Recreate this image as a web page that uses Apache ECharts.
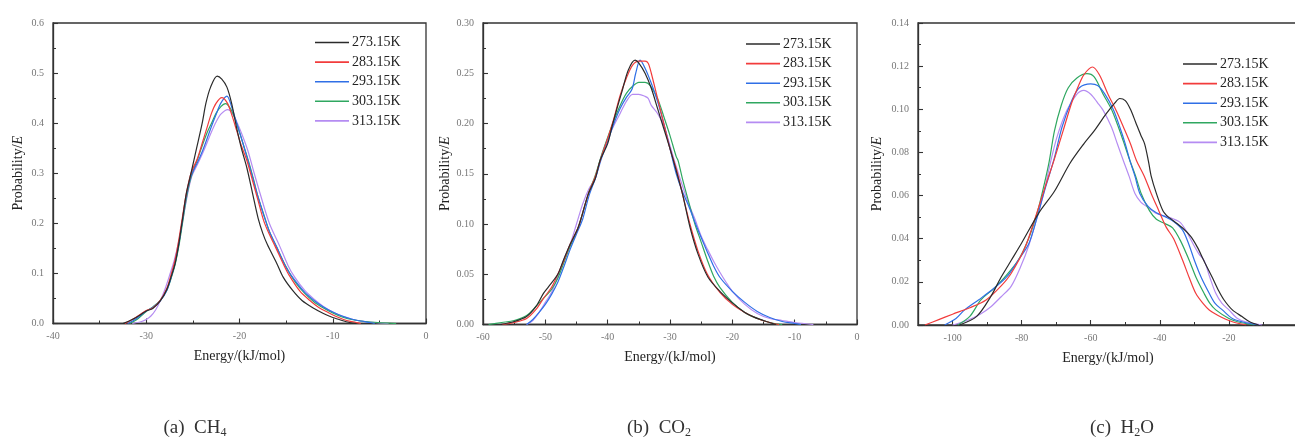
<!DOCTYPE html>
<html>
<head>
<meta charset="utf-8">
<title>Adsorption energy distributions</title>
<script src="https://cdn.jsdelivr.net/npm/echarts@6/dist/echarts.min.js"></script>
<style>
  html, body { margin: 0; padding: 0; background: #fff; }
  #chart { width: 1295px; height: 440px; }
</style>
</head>
<body>
<div id="chart"></div>
<script>
// Temperatures shown in every legend
const temps = ['273.15K', '283.15K', '293.15K', '303.15K', '313.15K'];
const colors = ['#2b2b2b', '#f23c3c', '#2f6fe6', '#2fa760', '#b58cf2'];

// (a) CH4 : [energy kJ/mol, probability]
const ch4_273 = [[-32.5,0],[-31.5,0.008],[-30.5,0.019],[-30,0.025],[-29.3,0.03],[-28.5,0.045],[-27.8,0.068],[-27.3,0.095],[-26.9,0.12],[-26.5,0.16],[-26.1,0.21],[-25.7,0.26],[-25.2,0.3],[-24.6,0.35],[-24,0.4],[-23.6,0.44],[-23.1,0.472],[-22.4,0.494],[-21.9,0.488],[-21.35,0.472],[-20.85,0.44],[-20.3,0.39],[-19.8,0.35],[-19.2,0.31],[-18.6,0.26],[-18,0.21],[-17.5,0.18],[-17,0.157],[-16,0.12],[-15.3,0.092],[-14.3,0.066],[-13.3,0.046],[-12,0.03],[-11,0.02],[-10,0.012],[-9,0.006],[-8.2,0.002],[-7.5,0]];
const ch4_283 = [[-32.3,0],[-31.5,0.008],[-30.5,0.02],[-30,0.026],[-29.3,0.031],[-28.5,0.046],[-27.8,0.07],[-27.3,0.1],[-26.9,0.128],[-26.5,0.168],[-26.1,0.215],[-25.7,0.26],[-25.2,0.3],[-24.5,0.33],[-24,0.36],[-23.5,0.39],[-23,0.42],[-22.5,0.44],[-21.9,0.451],[-21.3,0.44],[-20.8,0.415],[-20.3,0.385],[-19.8,0.355],[-19.2,0.325],[-18.6,0.285],[-18,0.245],[-17.4,0.205],[-16.8,0.178],[-16.2,0.155],[-15.2,0.115],[-14.6,0.094],[-13.5,0.064],[-12.45,0.046],[-11.5,0.032],[-10.5,0.022],[-9.5,0.013],[-8.5,0.006],[-7.5,0.002],[-7,0]];
const ch4_293 = [[-32,0],[-31.2,0.008],[-30.5,0.018],[-30,0.025],[-29.3,0.032],[-28.5,0.045],[-27.8,0.066],[-27.3,0.094],[-26.9,0.122],[-26.5,0.16],[-26.1,0.208],[-25.7,0.255],[-25.2,0.295],[-24.5,0.322],[-24,0.343],[-23.5,0.368],[-23,0.394],[-22.5,0.418],[-22,0.44],[-21.35,0.454],[-20.8,0.43],[-20.3,0.4],[-19.8,0.37],[-19.2,0.332],[-18.6,0.292],[-18,0.252],[-17.4,0.216],[-16.8,0.184],[-16,0.152],[-15,0.112],[-14.3,0.092],[-13,0.062],[-12,0.046],[-11,0.033],[-10,0.023],[-9,0.015],[-8,0.009],[-7,0.005],[-6,0.002],[-5.5,0]];
const ch4_303 = [[-31.8,0],[-31,0.008],[-30.5,0.016],[-30,0.024],[-29.3,0.033],[-28.5,0.046],[-27.8,0.066],[-27.3,0.092],[-26.9,0.118],[-26.5,0.155],[-26.1,0.202],[-25.7,0.25],[-25.2,0.292],[-24.5,0.328],[-24,0.355],[-23.5,0.38],[-23,0.4],[-22.5,0.42],[-22,0.433],[-21.5,0.439],[-21,0.43],[-20.5,0.41],[-20,0.382],[-19.5,0.352],[-19,0.322],[-18.5,0.288],[-18,0.252],[-17.4,0.218],[-16.8,0.184],[-16,0.152],[-15,0.113],[-14,0.082],[-13,0.06],[-12,0.043],[-11,0.031],[-10,0.021],[-9,0.013],[-8,0.008],[-6,0.003],[-3.2,0]];
const ch4_313 = [[-31.5,0],[-30.5,0.004],[-30,0.008],[-29.5,0.015],[-29,0.027],[-28.5,0.045],[-28,0.068],[-27.5,0.096],[-27,0.126],[-26.5,0.165],[-26,0.215],[-25.5,0.265],[-25.1,0.295],[-24.5,0.318],[-24,0.338],[-23.5,0.36],[-23,0.383],[-22.5,0.403],[-22,0.418],[-21.25,0.427],[-20.8,0.42],[-20.3,0.403],[-19.7,0.376],[-19.1,0.345],[-18.5,0.305],[-17.8,0.26],[-16.8,0.2],[-15.7,0.155],[-14.8,0.116],[-14.1,0.093],[-13,0.066],[-11.9,0.047],[-11,0.034],[-10,0.023],[-9,0.015],[-8,0.009],[-7,0.005],[-5.5,0.002],[-4,0]];

// (b) CO2
const co2_273 = [[-57.2,0],[-55,0.003],[-53,0.008],[-51.5,0.018],[-50.3,0.031],[-49.5,0.0375],[-48,0.05],[-47.1,0.064],[-46,0.08],[-44.7,0.097],[-43.1,0.13],[-42,0.145],[-41.2,0.1635],[-40,0.18],[-39.3,0.197],[-38.5,0.215],[-37.7,0.232],[-36.7,0.253],[-35.6,0.263],[-35,0.26],[-34,0.25],[-33,0.235],[-32,0.215],[-31,0.195],[-30,0.175],[-29.45,0.163],[-28,0.13],[-26.8,0.097],[-25.5,0.07],[-23.9,0.047],[-22,0.033],[-19.9,0.021],[-18,0.012],[-16.6,0.0076],[-15,0.004],[-13,0]];
const co2_283 = [[-57,0],[-55,0.002],[-53,0.006],[-51.5,0.015],[-50.3,0.026],[-49,0.037],[-48,0.05],[-47,0.064],[-46,0.08],[-44.7,0.097],[-43.1,0.13],[-42,0.147],[-41,0.167],[-40,0.185],[-39,0.205],[-38,0.228],[-37,0.245],[-36,0.258],[-35,0.262],[-34,0.262],[-33.5,0.26],[-33,0.25],[-32,0.225],[-31,0.2],[-30,0.175],[-29,0.155],[-28,0.13],[-26.8,0.1],[-25.5,0.073],[-24,0.05],[-22,0.032],[-20,0.02],[-18,0.012],[-16,0.006],[-14,0.002],[-12.5,0]];
const co2_293 = [[-53,0],[-52,0.005],[-51,0.012],[-50,0.02],[-49,0.03],[-48,0.042],[-47,0.058],[-46,0.075],[-45,0.09],[-44,0.105],[-43,0.128],[-42,0.145],[-41,0.165],[-40,0.182],[-39,0.2],[-38,0.215],[-37,0.226],[-36.1,0.234],[-35.5,0.25],[-34.8,0.263],[-34,0.255],[-33,0.24],[-32,0.222],[-31,0.2],[-30,0.175],[-29,0.15],[-28,0.132],[-27,0.118],[-25.7,0.097],[-24,0.072],[-23,0.058],[-22,0.047],[-20,0.033],[-18,0.022],[-16,0.013],[-14,0.007],[-12,0.003],[-10,0.001],[-9,0]];
const co2_303 = [[-59.1,0],[-57,0.002],[-55,0.004],[-53,0.009],[-51.5,0.018],[-50,0.028],[-49,0.035],[-48,0.046],[-47,0.062],[-46,0.078],[-44.7,0.097],[-43.1,0.13],[-42,0.148],[-41,0.168],[-40,0.186],[-39,0.203],[-38,0.218],[-37,0.23],[-36,0.237],[-35,0.241],[-34,0.241],[-33.2,0.238],[-32,0.225],[-31,0.207],[-30,0.188],[-29,0.167],[-28.7,0.163],[-28,0.145],[-27,0.122],[-26,0.1],[-25,0.082],[-24,0.064],[-23,0.048],[-22,0.037],[-20,0.022],[-18,0.012],[-16,0.006],[-14,0.002],[-12,0]];
const co2_313 = [[-53,0],[-52,0.004],[-51,0.012],[-50,0.022],[-49,0.032],[-48,0.048],[-47,0.065],[-46,0.08],[-45,0.1],[-44,0.12],[-43,0.135],[-42,0.145],[-41,0.168],[-40,0.185],[-39,0.198],[-38,0.21],[-37,0.222],[-36,0.229],[-35,0.229],[-34,0.227],[-33.5,0.225],[-33,0.218],[-32,0.21],[-31,0.198],[-30,0.178],[-29,0.157],[-28,0.138],[-27,0.12],[-26,0.105],[-25,0.088],[-24,0.075],[-23,0.063],[-22,0.052],[-21,0.042],[-20,0.033],[-18,0.02],[-16,0.011],[-14,0.006],[-12,0.004],[-10,0.002],[-7,0]];

// (c) H2O
const h2o_273 = [[-98,0],[-93,0.004],[-89,0.013],[-86,0.022],[-83,0.03],[-80,0.038],[-75,0.052],[-70.5,0.062],[-66,0.075],[-62,0.084],[-59,0.09],[-55.5,0.098],[-53,0.103],[-51.6,0.105],[-50,0.104],[-48.5,0.1],[-47,0.094],[-45.5,0.088],[-44.4,0.084],[-43.3,0.076],[-42.5,0.069],[-41,0.061],[-39.1,0.053],[-37.5,0.05],[-36.3,0.0486],[-33.4,0.045],[-31,0.041],[-29.1,0.036],[-27,0.029],[-24.8,0.022],[-23,0.016],[-21.4,0.0116],[-19,0.007],[-16.2,0.0039],[-14,0.0015],[-11.4,0]];
const h2o_283 = [[-108,0],[-104,0.0025],[-100,0.005],[-95,0.008],[-90.3,0.0116],[-86,0.018],[-83,0.024],[-79,0.036],[-76,0.05],[-73,0.065],[-70.5,0.077],[-68,0.09],[-65.5,0.103],[-63.5,0.111],[-62,0.116],[-59.5,0.1196],[-57.5,0.116],[-55,0.107],[-52.5,0.099],[-50.6,0.092],[-48.5,0.084],[-46.8,0.0764],[-44.5,0.069],[-42.5,0.061],[-40.3,0.053],[-38.2,0.0455],[-36,0.04],[-33.4,0.03],[-31.5,0.022],[-29.6,0.0147],[-27.5,0.01],[-25.7,0.007],[-22,0.0035],[-19,0.0015],[-15,0]];
const h2o_293 = [[-102.3,0],[-99,0.003],[-96.5,0.007],[-92.5,0.0116],[-88,0.017],[-84.2,0.0225],[-81,0.03],[-77.9,0.0378],[-75.5,0.05],[-73.6,0.061],[-70.7,0.0764],[-68.3,0.0918],[-65.5,0.104],[-63.3,0.11],[-60,0.1118],[-58,0.111],[-55.9,0.107],[-53.5,0.1],[-51.6,0.0918],[-50,0.084],[-48.7,0.0764],[-47.2,0.069],[-45.8,0.061],[-43.4,0.055],[-41,0.052],[-38.2,0.05],[-36,0.048],[-33.4,0.044],[-31.5,0.037],[-30,0.03],[-28,0.022],[-25.7,0.0147],[-24,0.01],[-21.9,0.007],[-19,0.003],[-16.2,0.0015],[-11.5,0]];
const h2o_303 = [[-98.5,0],[-95,0.004],[-91.8,0.0116],[-88,0.017],[-85,0.022],[-81,0.03],[-78,0.04],[-75.5,0.052],[-73.5,0.065],[-72,0.076],[-70.5,0.09],[-68.5,0.102],[-66.5,0.11],[-64,0.1145],[-61.1,0.1165],[-59,0.115],[-56.4,0.107],[-54,0.1],[-52,0.0918],[-50.3,0.084],[-48.7,0.0764],[-47,0.069],[-45.4,0.061],[-43,0.053],[-41,0.049],[-38.5,0.047],[-36.3,0.045],[-34,0.039],[-31.5,0.03],[-29.5,0.022],[-27.2,0.0147],[-25.5,0.01],[-23.8,0.007],[-20,0.003],[-17.5,0.0015],[-12.6,0]];
const h2o_313 = [[-100,0],[-96,0.002],[-92,0.005],[-88.9,0.0085],[-86,0.013],[-83.1,0.0178],[-80.3,0.027],[-77.9,0.037],[-75.5,0.05],[-73.6,0.061],[-71.7,0.075],[-69.8,0.087],[-66.9,0.0995],[-64,0.107],[-62,0.1088],[-60,0.107],[-58,0.103],[-56.4,0.0995],[-54,0.0918],[-52.3,0.084],[-50.6,0.0764],[-48.9,0.069],[-47.2,0.061],[-45.5,0.057],[-43.9,0.055],[-41,0.0517],[-37.5,0.05],[-34.3,0.0478],[-32.5,0.044],[-30.5,0.038],[-28.7,0.033],[-27.2,0.03],[-25.5,0.022],[-23.8,0.0147],[-22,0.01],[-20,0.007],[-17.5,0.003],[-15.2,0.0015],[-10.4,0]];

// Axis ranges and tick steps per panel: [min, max, step]
const xRangeA = [-40, 0, 10];
const yRangeA = [0, 0.6, 0.1];
const xRangeB = [-60, 0, 10];
const yRangeB = [0, 0.30, 0.05];
const xRangeC = [-110, 0, 10];
const yRangeC = [0, 0.14, 0.02];

const captions = [['(a)', 'CH', '4', ''], ['(b)', 'CO', '2', ''], ['(c)', 'H', '2', 'O']];

const panelData = [
  [ch4_273, ch4_283, ch4_293, ch4_303, ch4_313],
  [co2_273, co2_283, co2_293, co2_303, co2_313],
  [h2o_273, h2o_283, h2o_293, h2o_303, h2o_313]
];

const SERIF = 'Liberation Serif';
const INK = '#333';

// Plot boxes in pixels
const grids = [
  { left: 53, top: 23, width: 373, height: 300.5 },
  { left: 483, top: 23, width: 374, height: 301.5 },
  { left: 918, top: 23, width: 380, height: 302 }
];

const legendPos = [
  { left: 315, top: 35.5 },
  { left: 746, top: 37 },
  { left: 1183, top: 57 }
];

const yNameGap = [28, 31, 34];
const yDigits = [1, 2, 2];

function baseX(range, extra) {
  return Object.assign({
    type: 'value',
    min: range[0],
    max: range[1],
    name: 'Energy/(kJ/mol)',
    nameLocation: 'middle',
    nameGap: 26,
    nameTextStyle: { fontFamily: SERIF, fontSize: 14, color: '#222' },
    axisLine: { show: true, onZero: false, lineStyle: { color: INK, width: 1.3 } },
    axisTick: { show: true, inside: true, length: 5, lineStyle: { color: INK, width: 1.1 } },
    minorTick: { show: true, splitNumber: 2, length: 3, lineStyle: { color: INK, width: 1 } },
    axisLabel: { fontFamily: SERIF, fontSize: 10, color: '#777', margin: 8 },
    splitLine: { show: false },
    minorSplitLine: { show: false }
  }, extra);
}

function baseY(range, i) {
  return {
    type: 'value',
    gridIndex: i,
    position: 'left',
    min: range[0],
    max: range[1],
    interval: range[2],
    name: '{a|Probability/}{b|E}',
    nameLocation: 'middle',
    nameGap: yNameGap[i],
    nameTextStyle: {
      fontFamily: SERIF, fontSize: 14, color: '#222',
      rich: {
        a: { fontFamily: SERIF, fontSize: 14, color: '#222' },
        b: { fontFamily: SERIF, fontSize: 14, color: '#222', fontStyle: 'italic' }
      }
    },
    axisLine: { show: true, onZero: false, lineStyle: { color: INK, width: 1.3 } },
    axisTick: { show: true, inside: true, length: 5, lineStyle: { color: INK, width: 1.1 } },
    minorTick: { show: true, splitNumber: 2, length: 3, lineStyle: { color: INK, width: 1 } },
    axisLabel: {
      fontFamily: SERIF, fontSize: 10, color: '#777', margin: 9,
      formatter: v => v.toFixed(yDigits[i])
    },
    splitLine: { show: false },
    minorSplitLine: { show: false }
  };
}

const xAxes = [
  baseX(xRangeA, { gridIndex: 0, interval: xRangeA[2] }),
  baseX(xRangeB, { gridIndex: 1, interval: xRangeB[2] }),
  // labelled axis of panel (c): major steps of 20 from -100
  baseX(xRangeC, {
    gridIndex: 2,
    splitNumber: 5,
    minorTick: { show: false },
    axisLabel: { fontFamily: SERIF, fontSize: 10, color: '#777', margin: 8, showMinLabel: false,
      formatter: v => (v % 20 === 0 ? String(v) : '') }
  }),
  // short ticks every 10 for panel (c)
  {
    type: 'value', gridIndex: 2, position: 'bottom',
    min: xRangeC[0], max: xRangeC[1], interval: xRangeC[2],
    axisLine: { show: false, onZero: false },
    axisTick: { show: true, inside: true, length: 3, lineStyle: { color: INK, width: 1 } },
    axisLabel: { show: false },
    splitLine: { show: false }
  }
];

const yAxes = [baseY(yRangeA, 0), baseY(yRangeB, 1), baseY(yRangeC, 2)];

const series = [];
panelData.forEach((set, p) => {
  set.forEach((pts, k) => {
    series.push({
      name: temps[k],
      type: 'line',
      xAxisIndex: p,
      yAxisIndex: p,
      data: pts,
      smooth: 0.3,
      symbol: 'none',
      clip: true,
      lineStyle: { color: colors[k], width: 1.2 },
      itemStyle: { color: colors[k] },
      emphasis: { disabled: true },
      z: 10 - k
    });
  });
});

const legends = legendPos.map(pos => ({
  data: temps,
  orient: 'vertical',
  left: pos.left,
  top: pos.top,
  icon: 'rect',
  itemWidth: 34,
  itemHeight: 1.6,
  itemGap: 5.6,
  padding: 0,
  selectedMode: false,
  textStyle: { fontFamily: SERIF, fontSize: 14, color: '#222', lineHeight: 14, padding: [0, 0, 0, -2] }
}));

const captionX = [195, 659, 1122];
const graphics = captions.map((c, i) => ({
  type: 'text',
  x: captionX[i],
  y: 428,
  style: {
    text: '{n|' + c[0] + '  ' + c[1] + '}{s|' + c[2] + '}' + (c[3] ? '{n|' + c[3] + '}' : ''),
    align: 'center',
    verticalAlign: 'middle',
    textAlign: 'center',
    textVerticalAlign: 'middle',
    fill: '#333',
    rich: {
      n: { fontFamily: SERIF, fontSize: 19, fill: '#333', lineHeight: 22 },
      s: { fontFamily: SERIF, fontSize: 12, fill: '#333', lineHeight: 7, verticalAlign: 'bottom' }
    }
  }
}));

const chart = echarts.init(document.getElementById('chart'), null, { renderer: 'canvas' });
chart.setOption({
  backgroundColor: '#fff',
  animation: false,
  grid: grids.map(g => Object.assign({
    show: true, borderColor: INK, borderWidth: 1.3, backgroundColor: 'transparent',
    containLabel: false, outerBoundsMode: 'none'
  }, g)),
  xAxis: xAxes,
  yAxis: yAxes,
  legend: legends,
  series: series,
  graphic: graphics
});
</script>
</body>
</html>
